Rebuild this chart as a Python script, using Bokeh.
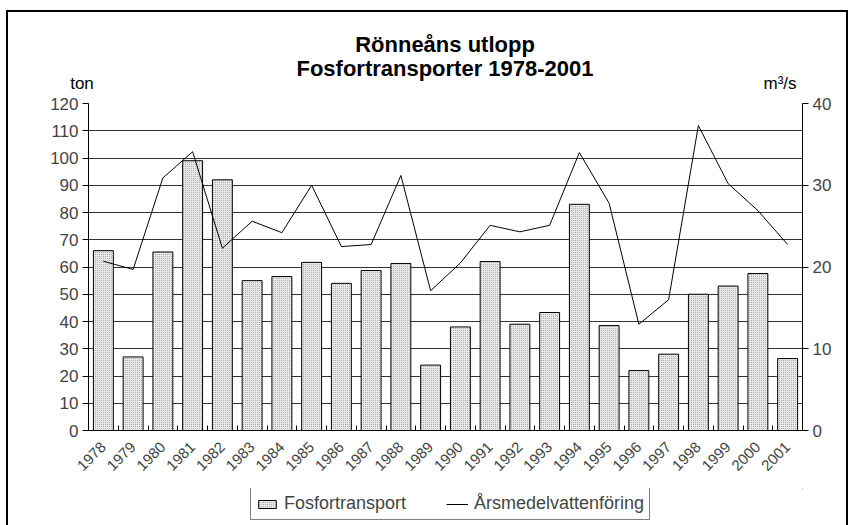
import math
from bokeh.plotting import figure
from bokeh.layouts import column, row
from bokeh.models import (Range1d, LinearAxis, FixedTicker, Legend,
                          LegendItem, Spacer, Div)
from bokeh.embed import file_html
from bokeh.resources import INLINE

years = [1978, 1979, 1980, 1981, 1982, 1983, 1984, 1985, 1986, 1987, 1988, 1989,
         1990, 1991, 1992, 1993, 1994, 1995, 1996, 1997, 1998, 1999, 2000, 2001]
fosfor_ton = [66, 27, 65.5, 99, 92, 55, 56.5, 61.7, 54, 58.7, 61.3, 24,
              38, 62, 39, 43.3, 83, 38.5, 22, 28, 50, 53, 57.6, 26.4]
vattenforing = [20.7, 19.7, 30.9, 34.1, 22.3, 25.6, 24.2, 30.0, 22.5, 22.75, 31.2, 17.1,
                20.5, 25.1, 24.3, 25.1, 34.0, 27.8, 13.0, 16.0, 37.3, 30.2, 26.9, 22.75]
left_ticks = [0, 10, 20, 30, 40, 50, 60, 70, 80, 90, 100, 110, 120]
right_ticks = [0, 10, 20, 30, 40]
title_lines = ["Rönneåns utlopp", "Fosfortransporter 1978-2001"]
left_unit, right_unit = "ton", "m³/s"
series_names = ["Fosfortransport", "Årsmedelvattenföring"]

FONT = "Liberation Sans"

# layout (pixels)
W = 838
H_HEAD, H_MAIN, H_LEG = 81, 395, 37
TOP, FRAME_H = 10, 327

# ---------------- header: titles and unit labels ----------------
def box(txt, left, top, width, size, weight):
    return (f"<div style='position:absolute;left:{left}px;top:{top}px;width:{width}px;"
            f"text-align:center;font-family:\"{FONT}\";font-size:{size}px;"
            f"line-height:{size}px;font-weight:{weight};color:black;white-space:nowrap'>"
            f"{txt}</div>")

head_html = ("<div style='position:relative;width:%dpx;height:%dpx'>" % (W, H_HEAD)
             + box(title_lines[0], 137, 22, 600, 22, "bold")
             + box(title_lines[1], 137, 46, 600, 22, "bold")
             + box(left_unit, 44, 63, 60, 17, "normal")
             + box(right_unit, 742, 63, 60, 17, "normal")
             + "</div>")
head = Div(text=head_html, width=W, height=H_HEAD, margin=0)

# ---------------- main chart ----------------
p = figure(width=W, height=H_MAIN, output_backend="svg", toolbar_location=None,
           x_range=Range1d(years[0] - 0.5, years[-1] + 0.5),
           y_range=Range1d(left_ticks[0], left_ticks[-1]),
           min_border_left=80, min_border_right=44, min_border_top=TOP,
           min_border_bottom=H_MAIN - FRAME_H - TOP,
           x_axis_location=None, y_axis_location=None)
p.outline_line_color = None
p.background_fill_color = "white"
p.border_fill_color = "white"
p.extra_y_ranges = {"flow": Range1d(right_ticks[0], right_ticks[-1])}

xaxis = LinearAxis(ticker=FixedTicker(ticks=years,
                                      minor_ticks=[y - 0.5 for y in years] + [years[-1] + 0.5]))
xaxis.major_tick_line_color = None
xaxis.minor_tick_in = 5
xaxis.minor_tick_out = 0
xaxis.minor_tick_line_color = "black"
xaxis.major_label_orientation = math.pi / 4
xaxis.major_label_text_font = FONT
xaxis.major_label_text_font_size = "15px"
xaxis.major_label_standoff = 8
xaxis.axis_line_color = "black"
p.add_layout(xaxis, "below")

yl = LinearAxis(ticker=FixedTicker(ticks=left_ticks))
yr = LinearAxis(ticker=FixedTicker(ticks=right_ticks), y_range_name="flow")
for ax in (yl, yr):
    ax.major_tick_in = 0
    ax.major_tick_out = 6
    ax.minor_tick_line_color = None
    ax.axis_line_color = "black"
    ax.major_tick_line_color = "black"
    ax.major_label_text_font = FONT
    ax.major_label_text_font_size = "17px"
    ax.major_label_standoff = 4
p.add_layout(yl, "left")
p.add_layout(yr, "right")

p.xgrid.visible = False
p.ygrid.ticker = FixedTicker(ticks=left_ticks)
p.ygrid.grid_line_color = "#333333"
p.ygrid.grid_line_width = 1

bar_style = dict(fill_color="#e8e8e8", line_color="black", line_width=1,
                 hatch_pattern="dot", hatch_color="#999999", hatch_scale=2,
                 hatch_weight=1)
bars = p.vbar(x=years, top=fosfor_ton, width=0.67, bottom=0, **bar_style)
line = p.line(x=years, y=vattenforing, y_range_name="flow",
              line_color="black", line_width=1)

# ---------------- legend strip ----------------
lf = figure(width=W, height=H_LEG, output_backend="svg", toolbar_location=None,
            x_range=Range1d(-2, -1), y_range=Range1d(-2, -1),
            min_border_left=80, min_border_right=44, min_border_top=0, min_border_bottom=0,
            x_axis_location=None, y_axis_location=None)
lf.outline_line_color = None
lf.grid.visible = False
lf.border_fill_color = "white"
lf.background_fill_color = "white"
# legend proxies (same styles as the chart; their data lie outside this strip's ranges)
lbars = lf.vbar(x=[0], top=[1], width=0.5, **bar_style)
lline = lf.line(x=[0, 1], y=[0, 1], line_color="black", line_width=1)
legend = Legend(items=[LegendItem(label=series_names[0], renderers=[lbars]),
                       LegendItem(label=series_names[1], renderers=[lline])],
                orientation="horizontal", location=(162, 5))
legend.label_text_font = FONT
legend.label_text_font_size = "18px"
legend.border_line_color = "black"
legend.border_line_width = 1
legend.background_fill_color = "white"
legend.glyph_width = 22
legend.glyph_height = 10
legend.spacing = 40
legend.padding = 5
legend.margin = 0
legend.label_standoff = 6
legend.label_height = 18
lf.add_layout(legend, "center")

chart = column(head, p, lf, spacing=0, styles={"outline": "2px solid black"})
page = column(Spacer(height=12), row(Spacer(width=8), chart))
open("out.html", "w").write(file_html(page, INLINE))
